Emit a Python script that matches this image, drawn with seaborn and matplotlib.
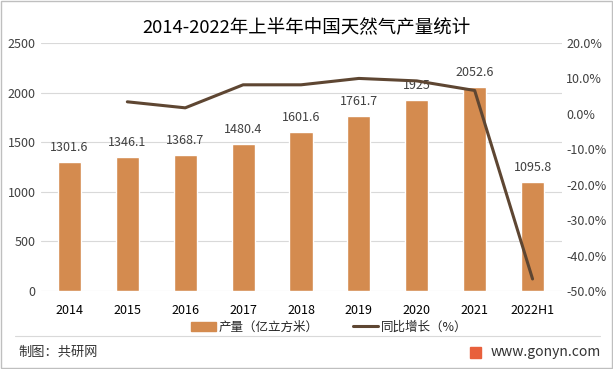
import matplotlib
matplotlib.use("Agg")
import matplotlib.pyplot as plt
import seaborn as sns
import pandas as pd
from matplotlib.ticker import FuncFormatter
from matplotlib.patches import Patch, Rectangle
from matplotlib.lines import Line2D

# data
years = ["2014", "2015", "2016", "2017", "2018", "2019", "2020", "2021", "2022H1"]
output = [1301.6, 1346.1, 1368.7, 1480.4, 1601.6, 1761.7, 1925, 2052.6, 1095.8]
growth_years = ["2015", "2016", "2017", "2018", "2019", "2020", "2021", "2022H1"]
growth = [3.4, 1.7, 8.2, 8.2, 10.0, 9.3, 6.6, -46.6]

bar_color = "#D48B4F"
line_color = "#5E4632"

sns.set_style("white")
plt.rcParams["font.family"] = ["Noto Sans CJK SC", "DejaVu Sans"]

df = pd.DataFrame({"year": years, "output": output})

fig = plt.figure(figsize=(6.13, 3.69), dpi=100)
ax = fig.add_axes([40.5 / 613, 1 - 291 / 369, 521 / 613, 248 / 369])

sns.barplot(data=df, x="year", y="output", order=years, color=bar_color,
            width=0.4, saturation=1, ax=ax)
ax.set_xlim(-0.5, len(years) - 0.5)
ax.set_ylim(0, 2500)
ax.set_yticks(range(0, 2501, 500))
ax.grid(axis="y", color="#d9d9d9", lw=0.8)
ax.set_axisbelow(True)
for s in ax.spines.values():
    s.set_visible(False)
ax.tick_params(length=0, labelsize=9, colors="#404040")
ax.tick_params(axis="x", pad=9, labelsize=9, colors="#000000")
ax.set_xlabel("")
ax.set_ylabel("")

# bar labels (line is drawn over them, as in the original)
for i, v in enumerate(output):
    ax.annotate(f"{v:g}", (i, v), xytext=(0, 6), textcoords="offset points",
                ha="center", va="bottom", fontsize=9, color="#404040")

ax2 = ax.twinx()
gx = [years.index(y) for y in growth_years]
sns.lineplot(x=gx, y=growth, color=line_color, lw=2.2, ax=ax2)
ax2.set_ylim(-50, 20)
ax2.set_yticks(range(-50, 21, 10))
ax2.yaxis.set_major_formatter(FuncFormatter(lambda v, p: f"{v:.1f}%"))
ax2.tick_params(length=0, labelsize=9, colors="#404040")
for s in ax2.spines.values():
    s.set_visible(False)
ax2.set_xlim(-0.5, len(years) - 0.5)

fig.text(0.5, 1 - 28 / 369, "2014-2022年上半年中国天然气产量统计", ha="center",
         va="center", fontsize=13.3, color="#000000")

handles = [Patch(color=bar_color), Line2D([], [], color=line_color, lw=2.2)]
fig.legend(handles, ["产量（亿立方米）", "同比增长（%）"], loc="center",
           bbox_to_anchor=(329 / 613, 1 - 327 / 369), ncol=2, frameon=False,
           fontsize=9, handlelength=2.0, handleheight=0.7, handletextpad=0.25,
           columnspacing=2.7)

# footer
fig.add_artist(Line2D([15 / 613, 600 / 613], [1 - 336 / 369] * 2,
                      color="#d9d9d9", lw=0.8))
fig.text(18 / 613, 1 - 352 / 369, "制图：共研网", ha="left", va="center",
         fontsize=9.5, color="#333333")
fig.text(601 / 613, 1 - 352 / 369, "www.gonyn.com", ha="right", va="center",
         fontsize=10, color="#333333")
fig.add_artist(Rectangle((470 / 613, 1 - 358 / 369), 11 / 613, 11 / 369,
                         color="#E8603C", transform=fig.transFigure))
fig.add_artist(Rectangle((1 / 613, 1 / 369), 611 / 613, 367 / 369, fill=False,
                         edgecolor="#bfbfbf", lw=1, transform=fig.transFigure))

fig.savefig("out.png", dpi=100)
